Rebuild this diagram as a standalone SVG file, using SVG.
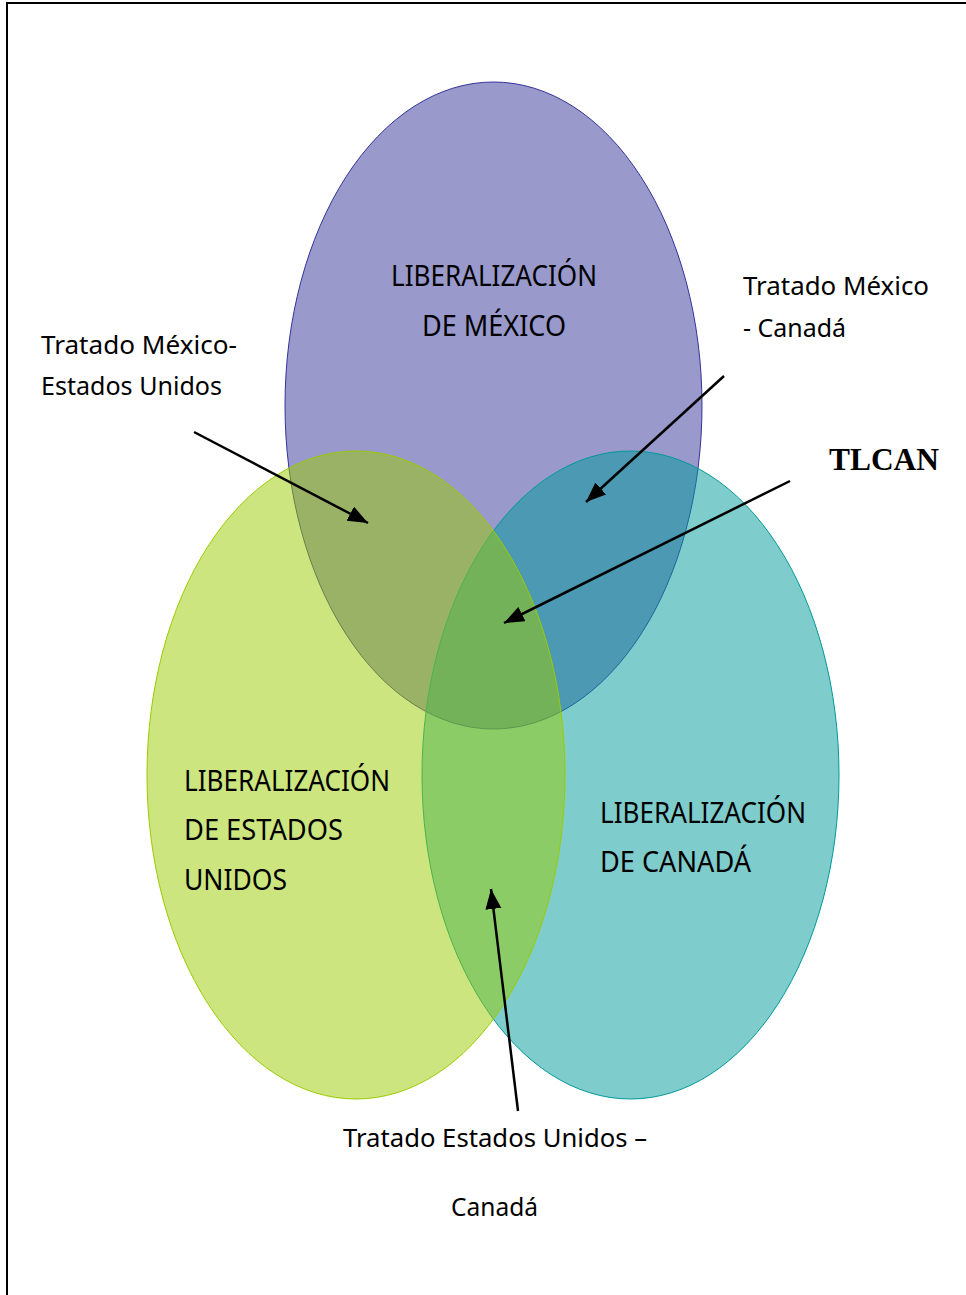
<svg xmlns="http://www.w3.org/2000/svg" width="966" height="1295" viewBox="0 0 966 1295">
<style>
.big{font-family:"Noto Sans","Open Sans",sans-serif;font-size:29px;fill:#000}
.small{font-family:"Noto Sans","Open Sans",sans-serif;font-size:25px;fill:#000}
.tl{font-family:"Liberation Serif","Times New Roman",serif;font-size:31.5px;font-weight:bold;fill:#000}
.arr{stroke:#000;stroke-width:2.5;fill:none;marker-end:url(#ah)}
</style>
<defs>
<marker id="ah" markerUnits="userSpaceOnUse" markerWidth="22" markerHeight="18" refX="20" refY="8" orient="auto">
<path d="M0,0 L20,8 L0,16 Z" fill="#000"/>
</marker>
</defs>
<rect x="0" y="0" width="966" height="1295" fill="#fff"/>
<rect x="7" y="3" width="1000" height="1400" fill="none" stroke="#000" stroke-width="2"/>
<g id="mexico">
<ellipse cx="493.5" cy="405.5" rx="208.5" ry="323.5" fill="#333399" fill-opacity="0.5" stroke="#333399" stroke-width="1"/>
<text class="big" x="391" y="286" textLength="206" lengthAdjust="spacingAndGlyphs">LIBERALIZACIÓN</text>
<text class="big" x="422" y="336" textLength="144" lengthAdjust="spacingAndGlyphs">DE MÉXICO</text>
</g>
<g id="canada">
<ellipse cx="630.5" cy="775" rx="208.5" ry="324" fill="#009999" fill-opacity="0.5" stroke="#009999" stroke-width="1"/>
<text class="big" x="600" y="823" textLength="206" lengthAdjust="spacingAndGlyphs">LIBERALIZACIÓN</text>
<text class="big" x="600" y="872" textLength="151" lengthAdjust="spacingAndGlyphs">DE CANADÁ</text>
</g>
<g id="estados-unidos">
<ellipse cx="356" cy="775" rx="209" ry="324" fill="#99CC00" fill-opacity="0.5" stroke="#99CC00" stroke-width="1"/>
<text class="big" x="184" y="791" textLength="206" lengthAdjust="spacingAndGlyphs">LIBERALIZACIÓN</text>
<text class="big" x="184" y="840" textLength="159" lengthAdjust="spacingAndGlyphs">DE ESTADOS</text>
<text class="big" x="184" y="890" textLength="103" lengthAdjust="spacingAndGlyphs">UNIDOS</text>
</g>
<g id="label-mx-us">
<text class="small" x="41" y="354" textLength="196" lengthAdjust="spacingAndGlyphs">Tratado México-</text>
<text class="small" x="41" y="395" textLength="181" lengthAdjust="spacingAndGlyphs">Estados Unidos</text>
</g>
<g id="label-mx-ca">
<text class="small" x="743" y="295" textLength="186" lengthAdjust="spacingAndGlyphs">Tratado México</text>
<text class="small" x="743" y="337" textLength="103" lengthAdjust="spacingAndGlyphs">- Canadá</text>
</g>
<g id="label-tlcan">
<text class="tl" x="829" y="470" textLength="110" lengthAdjust="spacingAndGlyphs">TLCAN</text>
</g>
<g id="label-us-ca">
<text class="small" x="343" y="1147" textLength="304" lengthAdjust="spacingAndGlyphs">Tratado Estados Unidos –</text>
<text class="small" x="451" y="1216" textLength="87" lengthAdjust="spacingAndGlyphs">Canadá</text>
</g>
<g id="connectors">
<line class="arr" x1="194" y1="432" x2="368" y2="523"/>
<line class="arr" x1="724" y1="376" x2="586" y2="502"/>
<line class="arr" x1="790" y1="481" x2="504" y2="623"/>
<line class="arr" x1="518" y1="1111" x2="491" y2="889"/>
</g>
</svg>
